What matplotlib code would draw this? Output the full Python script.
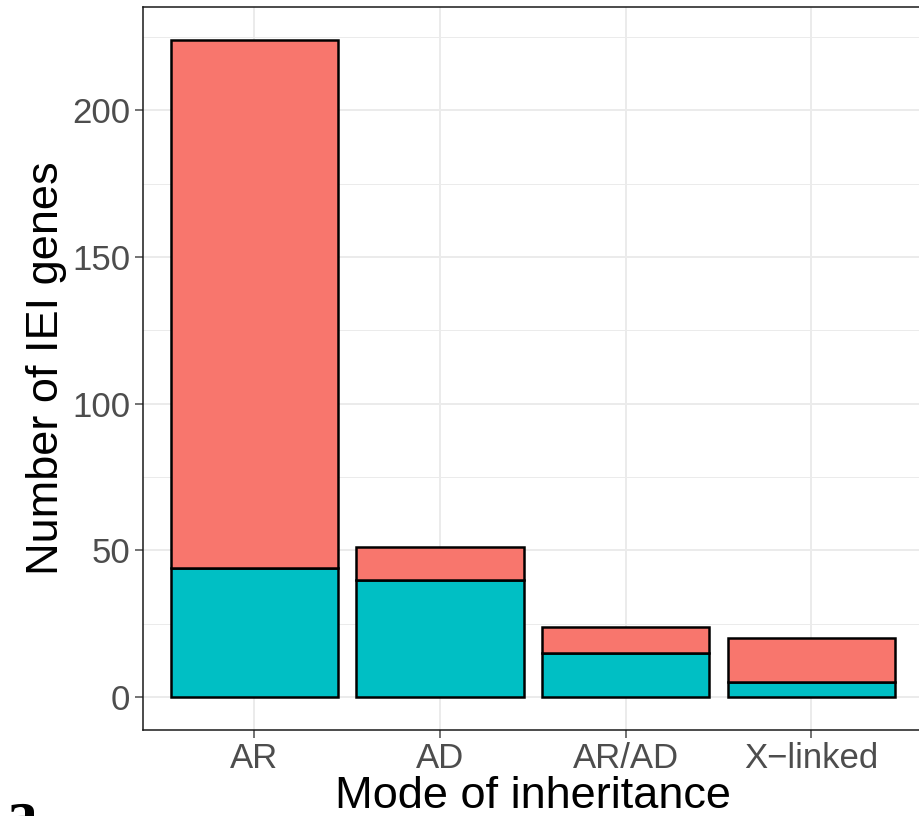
import matplotlib.pyplot as plt

# data
modes = ['AR', 'AD', 'AR/AD', 'X\u2212linked']
totals = [224, 51, 24, 20]
teal_part = [44, 40, 15, 5]
red_part = [t - b for t, b in zip(totals, teal_part)]

plt.rcParams['font.family'] = ['Liberation Sans', 'DejaVu Sans']

fig = plt.figure(figsize=(9.2, 8.16), dpi=100)
ax = fig.add_axes([143 / 920, 1 - 730 / 816, (922.6 - 143) / 920, (730 - 7) / 816])

x = list(range(1, len(modes) + 1))
ax.bar(x, teal_part, width=0.9, color='#00BFC4', edgecolor='black', linewidth=1.8, zorder=3)
ax.bar(x, red_part, width=0.9, bottom=teal_part, color='#F8766D', edgecolor='black',
       linewidth=1.8, zorder=3)

ax.set_xlim(0.4, 4.6)
ax.set_ylim(-11.2, 235.2)
ax.set_xticks(x)
ax.set_xticklabels(modes)
ax.set_yticks([0, 50, 100, 150, 200])
ax.set_yticks([25, 75, 125, 175, 225], minor=True)

ax.grid(True, which='major', color='#EBEBEB', linewidth=1.4, zorder=0)
ax.grid(True, which='minor', axis='y', color='#EBEBEB', linewidth=0.7, zorder=0)
ax.tick_params(axis='both', which='major', labelsize=25, colors='#4D4D4D',
               length=6, width=1.1, pad=3)
ax.tick_params(axis='both', which='minor', length=0)
for lbl in ax.get_xticklabels() + ax.get_yticklabels():
    lbl.set_color('#4D4D4D')
for s in ax.spines.values():
    s.set_color('#1A1A1A')
    s.set_linewidth(1.1)

ax.set_xlabel('Mode of inheritance', fontsize=32.5, labelpad=0)
ax.set_ylabel('Number of IEI genes', fontsize=32.5, labelpad=4)

# panel letter, partly cut at the bottom edge as in the original
fig.text(6 / 920, 1 - 790 / 816, 'a', fontsize=46, fontweight='bold',
         family=['Liberation Serif', 'DejaVu Serif'], va='top', ha='left')

fig.savefig('out.png', dpi=100)
plt.close()
